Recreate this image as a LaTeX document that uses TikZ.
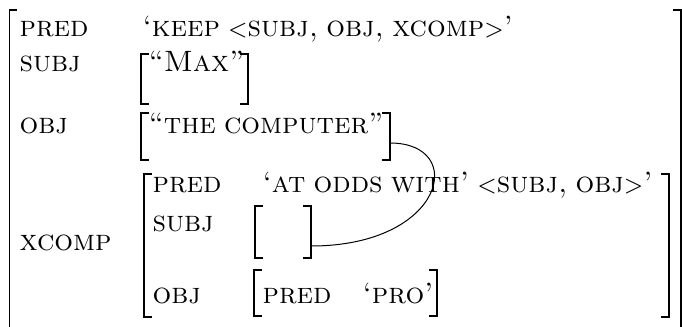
\documentclass[tikz,border=0pt]{standalone}
\newcommand\avmbrackets[4]{% left x, right x, top y, bottom y
  \draw[brk] ({#1+7},#3) -- (#1,#3) -- (#1,#4) -- ({#1+7},#4);
  \draw[brk] ({#2-7},#3) -- (#2,#3) -- (#2,#4) -- ({#2-7},#4);}
\newcommand\avmlt{{\fontsize{8.5}{10}\selectfont$<$}}
\newcommand\avmgt{{\fontsize{8.5}{10}\selectfont$>$}}
\newcommand\avmfont{\normalsize\spaceskip=0.28em plus 0.1em\relax}
\begin{document}
\begin{tikzpicture}[x=0.3397pt,y=-0.3397pt,
  txt/.style={anchor=base west, inner sep=0pt, font=\avmfont},
  brk/.style={line width=0.45pt, line cap=rect},
  link/.style={line width=0.34pt}]
\useasboundingbox (0,0) rectangle (682,326);
% brackets
\avmbrackets{9.5}{681}{10}{340}
\avmbrackets{141}{248}{54}{104}
\avmbrackets{141}{390}{113}{160}
\avmbrackets{144}{669}{174}{317}
\avmbrackets{255}{311}{206}{258}
\avmbrackets{254}{437}{270}{316}
% outer level
\node[txt] (pred) at (19,37) {\textsc{pred}};
\node[txt] (predv) at (142,37) {\textsc{`keep \avmlt subj, obj, xcomp\avmgt'}};
\node[txt] (subj) at (19,72) {\textsc{subj}};
\node[txt] (subjv) at (148,72) {\textsc{``Max''}};
\node[txt] (obj) at (19,133) {\textsc{obj}};
\node[txt] (objv) at (148,133) {\textsc{``the computer''}};
\node[txt] (xcomp) at (19,250) {\textsc{xcomp}};
% inner level
\node[txt] (ipred) at (152,192) {\textsc{pred}};
\node[txt] (ipredv) at (262,192) {\textsc{`at odds with' \avmlt subj, obj\avmgt'}};
\node[txt] (isubj) at (152,231) {\textsc{subj}};
\node[txt] (iobj) at (152,303) {\textsc{obj}};
\node[txt] (ppred) at (262,303) {\textsc{pred}};
\node[txt] (ppredv) at (362,303) {\textsc{`pro'}};
% structure-sharing link
\coordinate (from) at (390,143);
\coordinate (to) at (311,246);
\draw[link] (from) .. controls (468,143) and (445,246) .. (to);
\end{tikzpicture}
\end{document}
